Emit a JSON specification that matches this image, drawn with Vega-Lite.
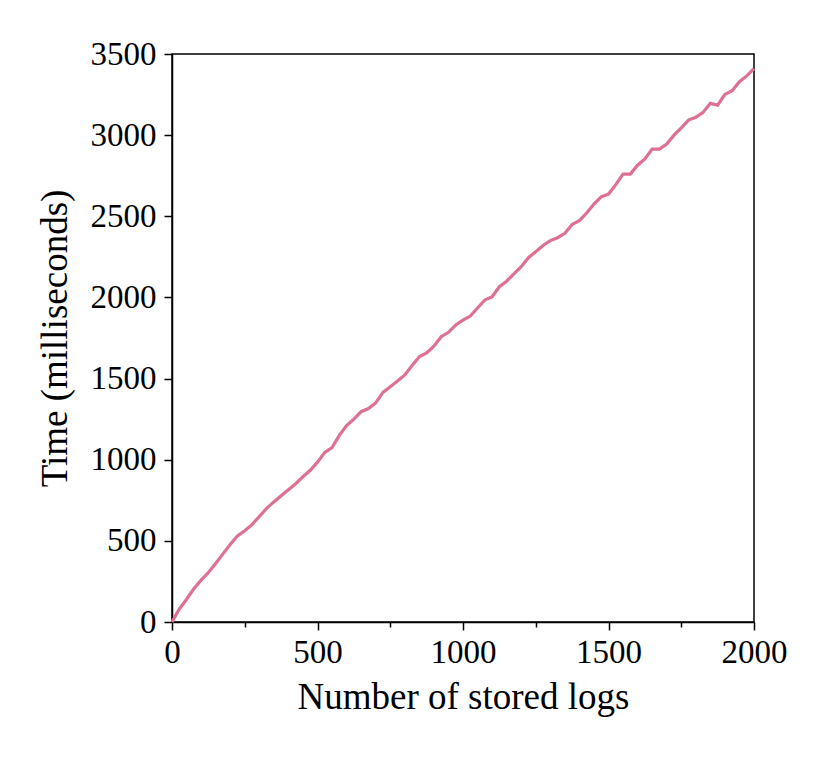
{
  "$schema": "https://vega.github.io/schema/vega-lite/v6.json",
  "width": 582,
  "height": 568,
  "autosize": "none",
  "padding": {"left": 172, "top": 54, "right": 76, "bottom": 137},
  "background": "white",
  "config": {
    "font": "Liberation Serif",
    "view": {"stroke": "black", "strokeWidth": 1.5},
    "axis": {
      "domainColor": "black",
      "domainWidth": 1.5,
      "tickColor": "black",
      "tickWidth": 1.5,
      "tickSize": 8,
      "grid": false,
      "format": "d",
      "labelFlush": false,
      "labelOverlap": false,
      "labelFont": "Liberation Serif",
      "labelFontSize": 33,
      "labelColor": "black",
      "titleFont": "Liberation Serif",
      "titleFontSize": 37,
      "titleFontWeight": "normal",
      "titleColor": "black",
      "labelPadding": 6
    }
  },
  "data": {
    "values": [
      {"n": 0, "t": 0}, {"n": 25, "t": 80}, {"n": 50, "t": 140}, {"n": 75, "t": 205},
      {"n": 100, "t": 258}, {"n": 125, "t": 305}, {"n": 150, "t": 360}, {"n": 175, "t": 420},
      {"n": 200, "t": 478}, {"n": 225, "t": 530}, {"n": 250, "t": 562}, {"n": 275, "t": 600},
      {"n": 300, "t": 650}, {"n": 325, "t": 700}, {"n": 350, "t": 740}, {"n": 375, "t": 778},
      {"n": 400, "t": 815}, {"n": 425, "t": 852}, {"n": 450, "t": 895}, {"n": 475, "t": 935},
      {"n": 500, "t": 985}, {"n": 525, "t": 1045}, {"n": 550, "t": 1075}, {"n": 575, "t": 1150},
      {"n": 600, "t": 1210}, {"n": 625, "t": 1250}, {"n": 650, "t": 1296}, {"n": 675, "t": 1315},
      {"n": 700, "t": 1350}, {"n": 725, "t": 1415}, {"n": 750, "t": 1450}, {"n": 775, "t": 1485},
      {"n": 800, "t": 1522}, {"n": 825, "t": 1580}, {"n": 850, "t": 1635}, {"n": 875, "t": 1658},
      {"n": 900, "t": 1700}, {"n": 925, "t": 1758}, {"n": 950, "t": 1785}, {"n": 975, "t": 1830},
      {"n": 1000, "t": 1860}, {"n": 1025, "t": 1885}, {"n": 1050, "t": 1935}, {"n": 1075, "t": 1984},
      {"n": 1100, "t": 2004}, {"n": 1125, "t": 2066}, {"n": 1150, "t": 2100}, {"n": 1175, "t": 2145},
      {"n": 1200, "t": 2189}, {"n": 1225, "t": 2245}, {"n": 1250, "t": 2282}, {"n": 1275, "t": 2320},
      {"n": 1300, "t": 2350}, {"n": 1325, "t": 2368}, {"n": 1350, "t": 2395}, {"n": 1375, "t": 2450},
      {"n": 1400, "t": 2473}, {"n": 1425, "t": 2520}, {"n": 1450, "t": 2575}, {"n": 1475, "t": 2620},
      {"n": 1500, "t": 2637}, {"n": 1525, "t": 2695}, {"n": 1550, "t": 2760}, {"n": 1575, "t": 2760},
      {"n": 1600, "t": 2815}, {"n": 1625, "t": 2853}, {"n": 1650, "t": 2914}, {"n": 1675, "t": 2914},
      {"n": 1700, "t": 2945}, {"n": 1725, "t": 3000}, {"n": 1750, "t": 3045}, {"n": 1775, "t": 3093},
      {"n": 1800, "t": 3110}, {"n": 1825, "t": 3140}, {"n": 1850, "t": 3196}, {"n": 1875, "t": 3185},
      {"n": 1900, "t": 3251}, {"n": 1925, "t": 3274}, {"n": 1950, "t": 3329}, {"n": 1975, "t": 3365},
      {"n": 2000, "t": 3410}
    ]
  },
  "layer": [
    {
      "mark": {"type": "line", "color": "#de7091", "strokeWidth": 3.2},
      "encoding": {
        "x": {
          "field": "n", "type": "quantitative",
          "scale": {"domain": [0, 2000], "nice": false},
          "axis": {"orient": "bottom", "values": [0, 500, 1000, 1500, 2000], "title": "Number of stored logs", "titlePadding": 10}
        },
        "y": {
          "field": "t", "type": "quantitative",
          "scale": {"domain": [0, 3500], "nice": false},
          "axis": {"values": [0, 500, 1000, 1500, 2000, 2500, 3000, 3500], "title": "Time (milliseconds)", "titlePadding": 16, "labelPadding": 8}
        }
      }
    },
    {
      "mark": {"type": "line", "opacity": 0},
      "encoding": {
        "x": {
          "field": "n", "type": "quantitative",
          "axis": {"orient": "bottom", "values": [250, 750, 1250, 1750], "labels": false, "domain": false, "tickSize": 5, "title": null}
        },
        "y": {"field": "t", "type": "quantitative"}
      }
    }
  ],
  "resolve": {"axis": {"x": "independent"}}
}
